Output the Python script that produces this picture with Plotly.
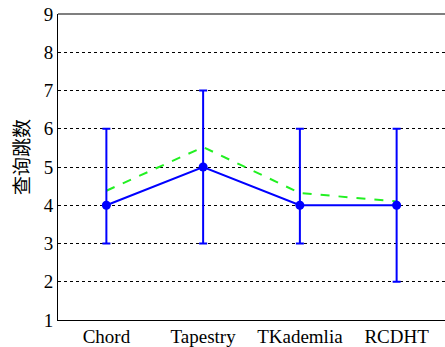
import plotly.graph_objects as go

categories = ["Chord", "Tapestry", "TKademlia", "RCDHT"]
mean_hops = [4, 5, 4, 4]
err_plus = [2, 2, 2, 2]
err_minus = [1, 2, 1, 2]
green_hops = [4.38, 5.52, 4.32, 4.1]
y_ticks = [1, 2, 3, 4, 5, 6, 7, 8, 9]

x_idx = list(range(len(categories)))
SERIF = "Liberation Serif, Times New Roman, Times, serif"

fig = go.Figure()
fig.add_trace(go.Scatter(
    x=x_idx, y=green_hops, mode="lines",
    line=dict(color="#22f022", width=2, dash="dash"),
    showlegend=False))
fig.add_trace(go.Scatter(
    x=x_idx, y=mean_hops, mode="lines+markers",
    line=dict(color="#0000ff", width=2),
    marker=dict(color="#0000ff", size=9),
    error_y=dict(type="data", symmetric=False, array=err_plus, arrayminus=err_minus,
                 color="#0000ff", thickness=2, width=4),
    showlegend=False))

fig.update_layout(
    width=445, height=347,
    margin=dict(l=58, r=0, t=14, b=27),
    paper_bgcolor="white", plot_bgcolor="white",
    font=dict(family=SERIF, size=19, color="black"),
    xaxis=dict(range=[-0.5, 3.5], tickmode="array", tickvals=x_idx, ticktext=categories,
               showgrid=False, zeroline=False, showline=True, linecolor="black", linewidth=1,
               ticks="", tickfont=dict(family=SERIF, size=19, color="black"),
               automargin=False, ticklabelstandoff=-1, ticklabeloverflow="allow"),
    yaxis=dict(range=[1, 9], tickmode="array", tickvals=y_ticks,
               showgrid=True, gridcolor="black", griddash="dot", gridwidth=1,
               zeroline=False, showline=True, linecolor="black", linewidth=1,
               ticks="", tickfont=dict(family=SERIF, size=19, color="black"),
               automargin=False, ticklabeloverflow="allow"),
)
fig.add_annotation(text="查询跳数", xref="paper", yref="paper", x=0.0,
                   xshift=-38, y=0.5, yshift=10, xanchor="center", yanchor="middle",
                   textangle=-90, showarrow=False,
                   font=dict(family="Noto Sans CJK SC", size=19, color="black"))
fig.add_shape(type="line", xref="paper", yref="paper", x0=0, x1=1, y0=1, y1=1,
              line=dict(color="#555555", width=1.5))

fig.write_html("out.html",
               config={"displayModeBar": False},
               post_script="document.body.style.margin='0';document.body.style.overflow='hidden';")
